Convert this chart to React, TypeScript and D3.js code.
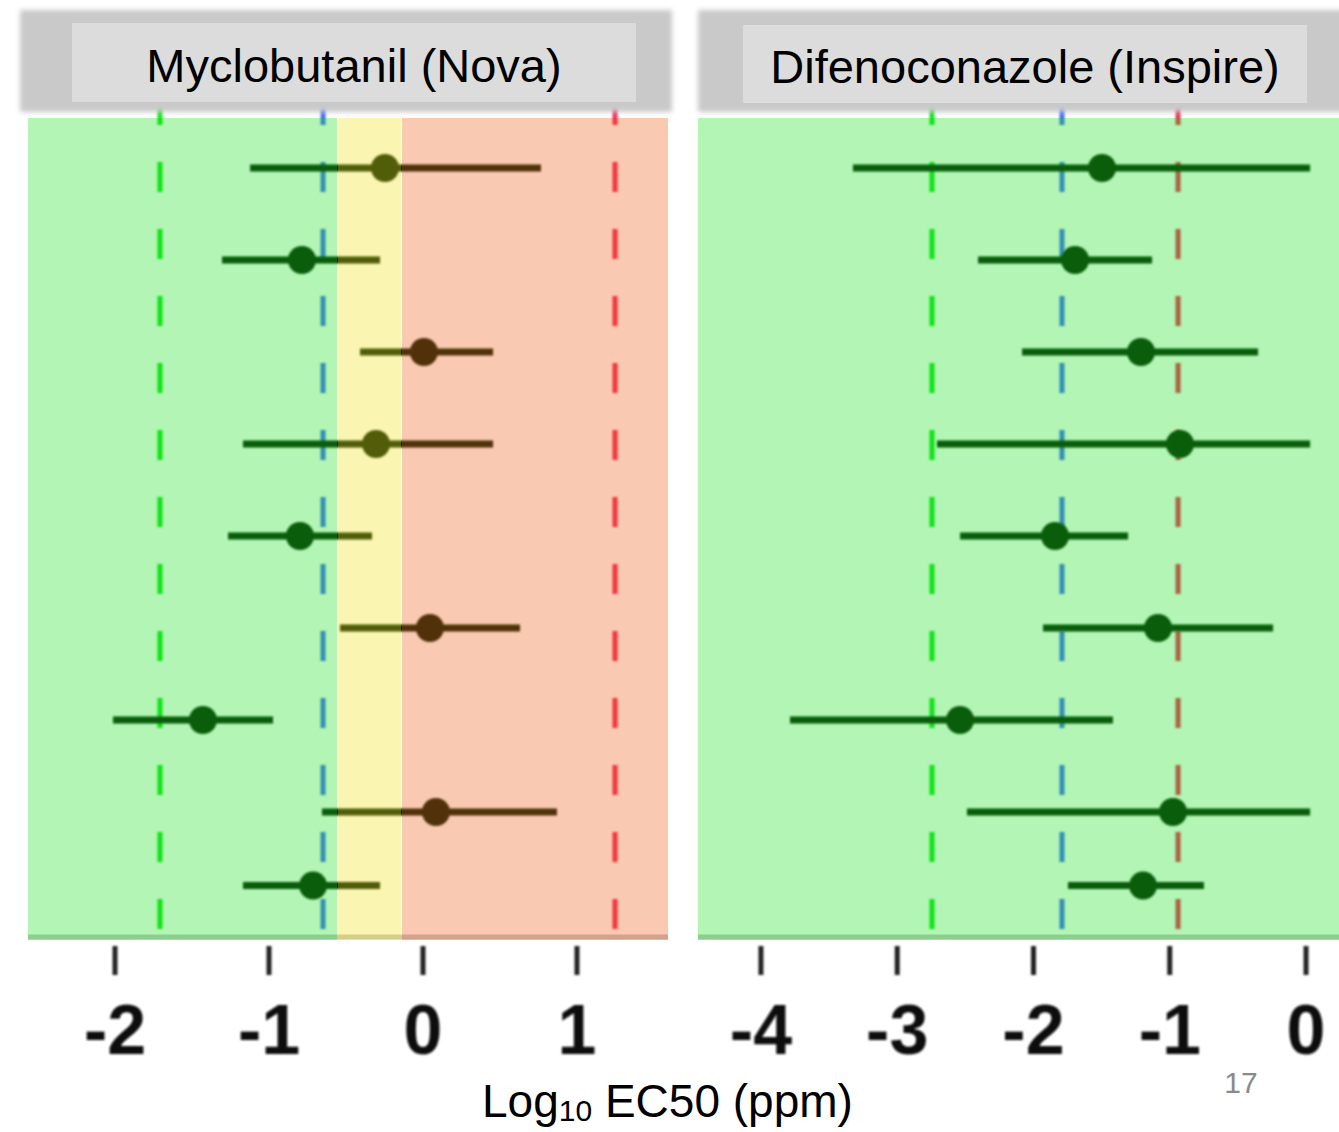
import React from 'react';
import * as d3 from 'd3';

// ---- data ----
const rowIndex = [1, 2, 3, 4, 5, 6, 7, 8, 8.8];

const panelTitles = ['Myclobutanil (Nova)', 'Difenoconazole (Inspire)'];

const myclobutanilEst = [-0.247, -0.786, 0.006, -0.305, -0.799, 0.045, -1.429, 0.084, -0.714];
const myclobutanilLo = [-1.123, -1.305, -0.409, -1.169, -1.266, -0.539, -2.013, -0.656, -1.169];
const myclobutanilHi = [0.766, -0.279, 0.455, 0.455, -0.331, 0.63, -0.974, 0.87, -0.279];

const difenoconazoleEst = [-1.497, -1.695, -1.211, -0.925, -1.842, -1.086, -2.539, -0.976, -1.196];
const difenoconazoleLo = [-3.325, -2.407, -2.084, -2.708, -2.539, -1.93, -3.787, -2.488, -1.747];
const difenoconazoleHi = [0.03, -1.13, -0.352, 0.03, -1.306, -0.242, -1.417, 0.03, -0.749];

const myclobutanilRefs = [-1.708, -0.649, 1.247];
const difenoconazoleRefs = [-2.745, -1.791, -0.939];

const myclobutanilZoneBreaks = [-0.558, -0.143];

const myclobutanilDomain = [-2.565, 1.591];
const difenoconazoleDomain = [-4.462, 0.242];

const myclobutanilTicks = [-2, -1, 0, 1];
const difenoconazoleTicks = [-4, -3, -2, -1, 0];

const xTitleMain = 'Log';
const xTitleSub = '10';
const xTitleRest = ' EC50 (ppm)';
const slideNumber = '17';

// ---- styling ----
const W = 1339;
const H = 1132;
const TOP = 118;
const BOTTOM = 940;
const refColors = ['#14e61e', '#4a6eff', '#f52d5a'];
const zoneColors = { green: 'rgb(0,222,5)', yellow: 'rgb(242,222,0)', orange: 'rgb(235,75,0)' };
const zoneAlpha = 0.3;
const markColor = '#0a280a';
const FONT = '"Liberation Sans", Arial, Helvetica, sans-serif';

type Panel = {
  title: string;
  est: number[];
  lo: number[];
  hi: number[];
  refs: number[];
  domain: number[];
  range: [number, number];
  ticks: number[];
  zones: { from: number; to: number; color: string }[];
  strip: [number, number];
  box: [number, number, number, number];
  titleBaseline: number;
};

const y = d3.scaleLinear().domain([1, 8]).range([168, 812]);

function buildPanels(): Panel[] {
  const [b1, b2] = myclobutanilZoneBreaks;
  return [
    {
      title: panelTitles[0],
      est: myclobutanilEst,
      lo: myclobutanilLo,
      hi: myclobutanilHi,
      refs: myclobutanilRefs,
      domain: myclobutanilDomain,
      range: [28, 668],
      ticks: myclobutanilTicks,
      zones: [
        { from: myclobutanilDomain[0], to: b1, color: zoneColors.green },
        { from: b1, to: b2, color: zoneColors.yellow },
        { from: b2, to: myclobutanilDomain[1], color: zoneColors.orange },
      ],
      strip: [20, 672],
      box: [72, 23, 564, 79],
      titleBaseline: 82,
    },
    {
      title: panelTitles[1],
      est: difenoconazoleEst,
      lo: difenoconazoleLo,
      hi: difenoconazoleHi,
      refs: difenoconazoleRefs,
      domain: difenoconazoleDomain,
      range: [698, 1339],
      ticks: difenoconazoleTicks,
      zones: [{ from: difenoconazoleDomain[0], to: difenoconazoleDomain[1], color: zoneColors.green }],
      strip: [698, 1345],
      box: [743, 25, 564, 78],
      titleBaseline: 83,
    },
  ];
}

function PanelView({ p }: { p: Panel }) {
  const x = d3.scaleLinear().domain(p.domain).range(p.range);
  const [x0, x1] = p.range;
  return (
    <g>
      {/* reference dashed lines (under the zones) */}
      <g filter="url(#soft)">
        {p.refs.map((r, i) => (
          <line
            key={'ref' + i}
            x1={x(r)}
            x2={x(r)}
            y1={95}
            y2={BOTTOM}
            stroke={refColors[i]}
            strokeWidth={5}
            strokeDasharray="30 37"
          />
        ))}
      </g>
      {/* estimates with intervals */}
      <g filter="url(#soft)">
        {rowIndex.map((r, i) => (
          <g key={'row' + i}>
            <line
              x1={x(p.lo[i])}
              x2={x(p.hi[i])}
              y1={y(r)}
              y2={y(r)}
              stroke={markColor}
              strokeWidth={7}
            />
            <circle cx={x(p.est[i])} cy={y(r)} r={14} fill={markColor} />
          </g>
        ))}
      </g>
      {/* bottom border line */}
      <line x1={x0} x2={x1} y1={BOTTOM - 3} y2={BOTTOM - 3} stroke="#c8c8c8" strokeWidth={5} />
      {/* coloured zones laid over */}
      {p.zones.map((z, i) => (
        <rect
          key={'zone' + i}
          x={x(z.from) + (i > 0 ? 1 : 0)}
          y={TOP}
          width={Math.max(0, x(z.to) - x(z.from) - (i > 0 ? 1 : 0))}
          height={BOTTOM - TOP}
          fill={z.color}
          opacity={zoneAlpha}
        />
      ))}
      {/* strip header */}
      <rect
        x={p.strip[0]}
        y={10}
        width={p.strip[1] - p.strip[0]}
        height={102}
        fill="#c9c9c9"
        filter="url(#blurEdge)"
      />
      <rect x={p.box[0]} y={p.box[1]} width={p.box[2]} height={p.box[3]} fill="#dcdcdc" />
      <text
        x={p.box[0] + p.box[2] / 2}
        y={p.titleBaseline}
        textAnchor="middle"
        fontFamily={FONT}
        fontSize={47}
        fill="#000"
      >
        {p.title}
      </text>
      {/* axis ticks */}
      <g filter="url(#soft)">
        {p.ticks.map((t) => (
          <line
            key={'tk' + t}
            x1={x(t)}
            x2={x(t)}
            y1={946}
            y2={975}
            stroke="#222"
            strokeWidth={5}
          />
        ))}
      </g>
      {p.ticks.map((t) => (
        <text
          key={'tl' + t}
          x={x(t)}
          y={1054}
          textAnchor="middle"
          fontFamily={FONT}
          fontWeight="bold"
          fontSize={70}
          fill="#111"
          filter="url(#softText)"
        >
          {t < 0 ? '-' + Math.abs(t) : String(t)}
        </text>
      ))}
    </g>
  );
}

export default function App() {
  const panels = buildPanels();
  return (
    <div style={{ position: 'absolute', left: 0, top: 0 }}>
      <svg width={W} height={H} viewBox={`0 0 ${W} ${H}`} style={{ display: 'block', background: '#fff' }}>
        <defs>
          <filter id="soft" x="-10%" y="-10%" width="120%" height="120%">
            <feGaussianBlur stdDeviation="1.3" />
          </filter>
          <filter id="softText" x="-10%" y="-10%" width="120%" height="120%">
            <feGaussianBlur stdDeviation="0.8" />
          </filter>
          <filter id="blurEdge" x="-5%" y="-10%" width="110%" height="120%">
            <feGaussianBlur stdDeviation="2.5" />
          </filter>
        </defs>
        <rect x={0} y={0} width={W} height={H} fill="#fff" />
        {panels.map((p, i) => (
          <PanelView key={i} p={p} />
        ))}
        <text x={482} y={1117} fontFamily={FONT} fontSize={46} fill="#000">
          {xTitleMain}
          <tspan fontSize={30} dy={4}>
            {xTitleSub}
          </tspan>
          <tspan dy={-4}>{xTitleRest}</tspan>
        </text>
        <text x={1241} y={1093} textAnchor="middle" fontFamily={FONT} fontSize={30} fill="#8a8a8a">
          {slideNumber}
        </text>
      </svg>
    </div>
  );
}
